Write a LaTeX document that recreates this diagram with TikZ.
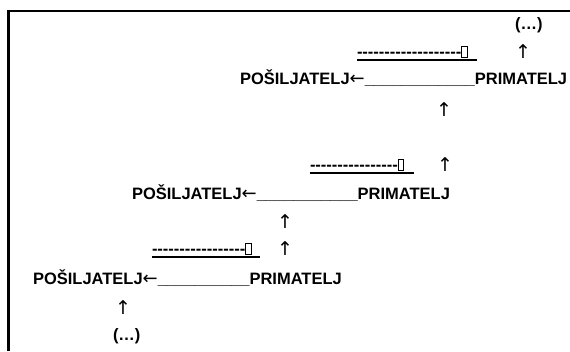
\documentclass[tikz,border=0pt]{standalone}
\usepackage{fontspec}
\setmainfont{Liberation Sans}[Ligatures=TeXOff]
\newfontfamily\arrowfont{DejaVu Sans}
\newcommand{\tofu}{{\setlength{\fboxsep}{0pt}\setlength{\fboxrule}{0.8pt}\fbox{\rule{0pt}{10.5pt}\hspace{4.5pt}}}}
\newcommand{\la}{{\arrowfont\mdseries\fontsize{18}{20}\selectfont ←}}
\begin{document}
\begin{tikzpicture}[x=1pt,y=-1pt,
  txt/.style={font=\fontsize{16.5}{19}\selectfont\bfseries, inner sep=0pt, outer sep=0pt, anchor=base west},
  arr/.style={font=\arrowfont\mdseries\fontsize{19}{21}\selectfont, inner sep=0pt, anchor=base},
  uline/.style={line width=1.5pt}]
\useasboundingbox (0,0) rectangle (570,351);
% frame
\draw[line width=2.6pt] (8.5,351) -- (8.5,11) -- (571,11);
% top (...)
\node[txt] (dots1) at (515,29) {(…)};
% row 1
\node[txt] (d1) at (357,57) {-------------------\tofu};
\coordinate (u1a) at (357,60);
\coordinate (u1b) at (477,60);
\draw[uline] (u1a) -- (u1b);
\node[arr] (a1) at (523,58) {↑};
\node[txt] (r1) at (240,84) {POŠILJATELJ\la\_\_\_\_\_\_\_\_\_\_\_\_PRIMATELJ};
\node[arr] (a2) at (444,116) {↑};
% row 2
\node[txt] (d2) at (310,170) {----------------\tofu};
\coordinate (u2a) at (310,173);
\coordinate (u2b) at (414,173);
\draw[uline] (u2a) -- (u2b);
\node[arr] (a3) at (445,171) {↑};
\node[txt] (r2) at (132,199) {POŠILJATELJ\la\_\_\_\_\_\_\_\_\_\_\_PRIMATELJ};
\node[arr] (a4) at (285,228) {↑};
% row 3
\node[txt] (d3) at (152,254) {-----------------\tofu};
\coordinate (u3a) at (152,257);
\coordinate (u3b) at (260,257);
\draw[uline] (u3a) -- (u3b);
\node[arr] (a5) at (285,255) {↑};
\node[txt] (r3) at (33,284) {POŠILJATELJ\la\_\_\_\_\_\_\_\_\_\_PRIMATELJ};
\node[arr] (a6) at (123,314) {↑};
\node[txt] (dots2) at (113,340) {(…)};
\end{tikzpicture}
\end{document}
